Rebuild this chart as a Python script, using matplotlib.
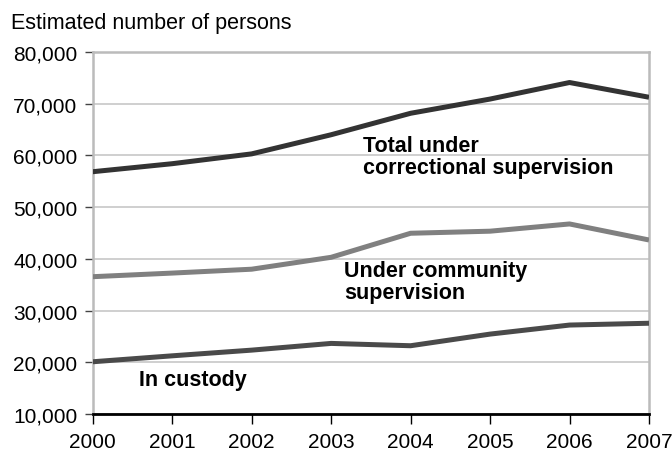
import matplotlib
matplotlib.use("Agg")
import matplotlib.pyplot as plt
from matplotlib.ticker import FuncFormatter

plt.rcParams['font.family'] = ['Liberation Sans', 'DejaVu Sans']

years = [2000, 2001, 2002, 2003, 2004, 2005, 2006, 2007]
total = [56850, 58400, 60300, 64000, 68150, 70900, 74100, 71250]
community = [36550, 37250, 38000, 40300, 44950, 45350, 46750, 43650]
custody = [20100, 21250, 22350, 23650, 23200, 25450, 27200, 27550]

fig = plt.figure(figsize=(6.72, 4.52), dpi=100)
ax = fig.add_axes([92.7 / 672, 1 - 415 / 452, 556.3 / 672, 362 / 452])

ax.plot(years, total, color='#333333', lw=3.6, solid_capstyle='butt', zorder=3)
ax.plot(years, community, color='#808080', lw=3.6, solid_capstyle='butt', zorder=3)
ax.plot(years, custody, color='#4a4a4a', lw=3.6, solid_capstyle='butt', zorder=3)

ax.set_xlim(2000, 2007)
ax.set_ylim(10000, 80000)
ax.set_xticks(years)
ax.set_yticks(range(10000, 80001, 10000))
ax.yaxis.set_major_formatter(FuncFormatter(lambda v, p: f"{int(v):,}"))
ax.yaxis.grid(True, color='#cccccc', lw=1.3)
ax.set_axisbelow(True)

for s in ['top', 'right', 'left']:
    ax.spines[s].set_color('#bbbbbb')
    ax.spines[s].set_linewidth(1.8)
ax.spines['bottom'].set_color('black')
ax.spines['bottom'].set_linewidth(2)
ax.spines['bottom'].set_zorder(4)

ax.tick_params(axis='y', length=6, width=1, color='#444444', labelsize=15, pad=5)
ax.tick_params(axis='x', length=7, width=1, color='black', labelsize=15, pad=6)

ax.text(2003.40, 63950, "Total under\ncorrectional supervision", fontsize=15.5,
        fontweight='bold', va='top', ha='left', linespacing=1.05)
ax.text(2003.16, 39700, "Under community\nsupervision", fontsize=15.5,
        fontweight='bold', va='top', ha='left', linespacing=1.05)
ax.text(2000.58, 18700, "In custody", fontsize=15.5,
        fontweight='bold', va='top', ha='left')

fig.text(11 / 672, 1 - 23 / 452, "Estimated number of persons", fontsize=15.5,
         va='center', ha='left')

fig.savefig("out.png", dpi=100)
